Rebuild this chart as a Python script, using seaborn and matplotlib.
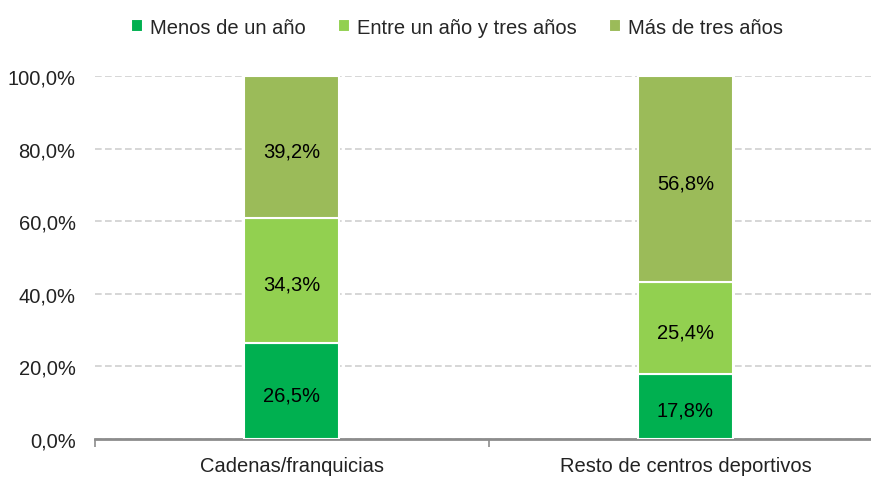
import matplotlib
matplotlib.use("Agg")
import matplotlib.pyplot as plt
import seaborn as sns
import pandas as pd
import numpy as np

categories = ["Cadenas/franquicias", "Resto de centros deportivos"]
series_names = ["Menos de un año", "Entre un año y tres años", "Más de tres años"]
menos = [26.5, 17.8]
entre = [34.3, 25.4]
mas = [39.2, 56.8]
colors = ["#00B050", "#92D050", "#9BBB59"]
yticks = [0, 20, 40, 60, 80, 100]

sns.set_theme(style="white")
plt.rcParams['font.family'] = ['Liberation Sans', 'DejaVu Sans']

fig = plt.figure(figsize=(8.71, 4.81), dpi=100)
ax = fig.add_axes([95/871, (481-440)/481, 1 - 95/871, (440-77)/481])

vals = [menos, entre, mas]
bottom = np.zeros(len(categories))
width = 0.241
for name, v, c in zip(series_names, vals, colors):
    bars = ax.bar(categories, v, width=width, bottom=bottom, color=c,
                  edgecolor="white", linewidth=1.5, label=name, zorder=3)
    for b, val, bt in zip(bars, v, bottom):
        ax.text(b.get_x() + b.get_width()/2, bt + val/2 - 1.0,
                f"{val:.1f}%".replace(".", ","), ha="center", va="center",
                fontsize=14.5, color="black", zorder=4)
    bottom = bottom + np.array(v)

ax.set_xlim(-0.499, 1.471)
ax.set_ylim(0, 100)
ax.set_yticks(yticks)
ax.set_yticklabels([f"{t:.1f}%".replace(".", ",") for t in yticks], fontsize=14.5)
ax.yaxis.grid(True, linestyle=(0, (4, 2)), color="#D0D0D0", linewidth=1.2, zorder=0)
ax.xaxis.grid(False)
for s in ["top", "right", "left"]:
    ax.spines[s].set_visible(False)
ax.spines["bottom"].set_color("#8C8C8C")
ax.spines["bottom"].set_linewidth(2)
ax.tick_params(axis="y", length=0, pad=14, labelcolor="#222222")
ax.tick_params(axis="x", which="major", bottom=False, length=0, labelsize=14.5, pad=12, labelcolor="#222222")
ax.set_xticks([-0.499, 0.5], minor=True)
ax.tick_params(axis="x", which="minor", bottom=True, length=6, width=1.2,
               color="#8C8C8C", direction="out")

handles, labels = ax.get_legend_handles_labels()
fig.legend(handles, labels, loc="center", bbox_to_anchor=(0.525, 1 - 28/481), ncol=3,
           frameon=False, fontsize=14.5, handlelength=0.6, handleheight=0.6,
           handletextpad=0.35, columnspacing=1.6)

fig.savefig("out.png", dpi=100)
